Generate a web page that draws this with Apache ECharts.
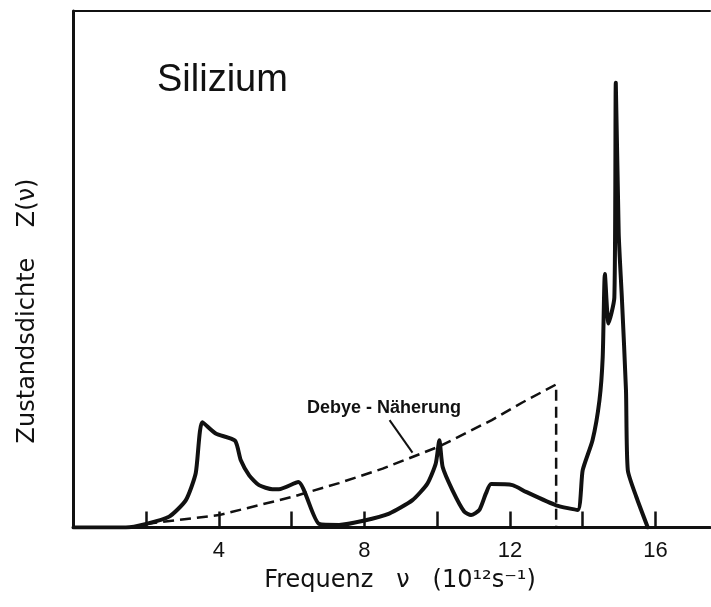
<!DOCTYPE html>
<html>
<head>
<meta charset="utf-8">
<script src="https://cdn.jsdelivr.net/npm/echarts/dist/echarts.min.js"></script>
<style>
  html, body { margin: 0; padding: 0; background: #fff; }
  #chart { width: 711px; height: 607px; }
</style>
</head>
<body>
<div id="chart"></div>
<script>
// Zustandsdichte von Silizium
// Frequenz in 10^12 s^-1, Z in willkuerlichen Einheiten (Rahmenhoehe = 100)
var freq = [0, 1.44, 2.00, 2.63, 3.09, 3.36, 3.54, 3.91, 4.44, 4.60,
            4.83, 5.10, 5.47, 5.65, 6.18, 6.75, 7.30, 7.97, 8.68, 9.32,
            9.73, 9.96, 10.06, 10.15, 10.42, 10.74, 10.93, 11.16, 11.34, 11.48,
            12.07, 12.44, 13.27, 13.86, 14.00, 14.27, 14.46, 14.55, 14.61, 14.71,
            14.87, 14.91, 14.99, 15.08, 15.19, 15.24, 15.47, 15.79];
var dos = [0, 0, 0.7, 2.1, 5.3, 10.5, 20.4, 18.2, 16.8, 13.0,
           10.1, 8.2, 7.4, 7.4, 8.8, 0.7, 0.5, 1.3, 2.7, 5.3,
           8.5, 12.4, 16.9, 11.7, 7.2, 3.1, 2.4, 3.4, 6.6, 8.4,
           8.2, 6.9, 4.3, 3.4, 11.1, 16.9, 24.6, 33.0, 49.1, 39.5,
           44.5, 86.1, 56.9, 44.0, 26.6, 11.1, 6.0, 0];

// Debye-Naeherung (gestrichelt)
var debyeFreq = [2.0, 4.0, 6.0, 7.3, 8.5, 10.06, 11.5, 12.34, 13.27, 13.27];
var debyeZ = [0.7, 2.4, 5.9, 8.6, 11.4, 15.7, 20.8, 24.2, 27.7, 0];

// Hinweisstrich zur Beschriftung
var leaderFreq = [8.69, 9.32];
var leaderZ = [20.8, 14.5];

var tickLabels = [4, 8, 12, 16];

function pairs(xs, ys) {
  var out = [];
  for (var i = 0; i < xs.length; i++) out.push([xs[i], ys[i]]);
  return out;
}

var ink = '#111';
var myChart = echarts.init(document.getElementById('chart'));

myChart.setOption({
  animation: false,
  backgroundColor: '#fff',
  grid: { left: 73.5, right: 1, top: 11, bottom: 79.5 },
  xAxis: [
    {
      type: 'value',
      min: 0,
      max: 17.5,
      interval: 2,
      axisLine: { show: true, lineStyle: { color: ink, width: 3 } },
      axisTick: { show: true, inside: true, length: 16, lineStyle: { color: ink, width: 2.5 } },
      splitLine: { show: false },
      axisLabel: {
        show: true,
        margin: 12,
        color: ink,
        fontSize: 22,
        fontFamily: 'Liberation Sans',
        showMaxLabel: false,
        formatter: function (v) { return tickLabels.indexOf(v) >= 0 ? String(v) : ''; }
      }
    },
    {
      type: 'value',
      position: 'top',
      min: 0,
      max: 17.5,
      axisLine: { show: true, lineStyle: { color: ink, width: 2 } },
      axisTick: { show: false },
      axisLabel: { show: false },
      splitLine: { show: false }
    }
  ],
  yAxis: {
    type: 'value',
    min: 0,
    max: 100,
    axisLine: { show: true, lineStyle: { color: ink, width: 3 } },
    axisTick: { show: false },
    axisLabel: { show: false },
    splitLine: { show: false }
  },
  graphic: [
    {
      type: 'text',
      x: 157, y: 81,
      style: {
        text: 'Silizium',
        fill: ink,
        font: '38px "Liberation Sans"',
        textAlign: 'left',
        textVerticalAlign: 'middle'
      }
    },
    {
      type: 'text',
      x: 384, y: 408,
      style: {
        text: 'Debye - Näherung',
        fill: ink,
        font: 'bold 18px "Liberation Sans"',
        textAlign: 'center',
        textVerticalAlign: 'middle'
      }
    },
    {
      type: 'text',
      x: 28, y: 311,
      rotation: Math.PI / 2,
      style: {
        text: 'Zustandsdichte    Z(ν)',
        fill: ink,
        font: '24px "DejaVu Sans"',
        textAlign: 'center',
        textVerticalAlign: 'middle'
      }
    },
    {
      type: 'text',
      x: 400, y: 581,
      style: {
        text: 'Frequenz   ν   (10¹²s⁻¹)',
        fill: ink,
        font: '24px "DejaVu Sans"',
        textAlign: 'center',
        textVerticalAlign: 'middle'
      }
    }
  ],
  series: [
    {
      name: 'Silizium',
      type: 'line',
      data: pairs(freq, dos),
      showSymbol: false,
      smooth: 0.2,
      lineStyle: { color: ink, width: 4, join: 'round', cap: 'round' },
      z: 5
    },
    {
      name: 'Debye',
      type: 'line',
      data: pairs(debyeFreq, debyeZ),
      showSymbol: false,
      smooth: false,
      lineStyle: { color: ink, width: 2.5, type: [11, 6] },
      z: 4
    },
    {
      name: 'Hinweis',
      type: 'line',
      data: pairs(leaderFreq, leaderZ),
      showSymbol: false,
      lineStyle: { color: ink, width: 2 },
      z: 4
    }
  ]
});
</script>
</body>
</html>
